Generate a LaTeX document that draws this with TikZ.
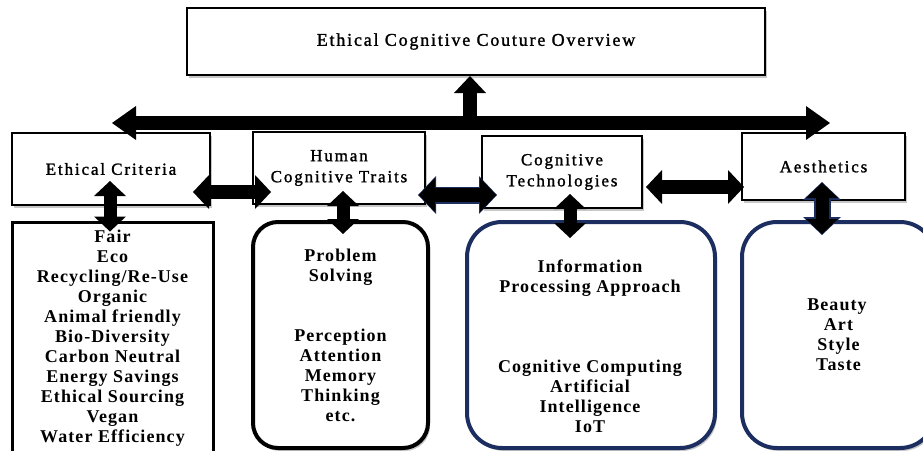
\documentclass[tikz,border=0pt]{standalone}
\usepackage{fontspec}
\setmainfont{Liberation Serif}
\newfontfamily\titlefont{Liberation Serif}[LetterSpace=10,FakeBold=1.4]
\newfontfamily\headfont{Liberation Serif}[LetterSpace=11,FakeBold=1.4]
\newfontfamily\listfont{Liberation Serif}[LetterSpace=6]
\usetikzlibrary{arrows.meta,shadows,calc}
\definecolor{navy}{RGB}{28,45,95}
\tikzset{
  shadowed/.style={drop shadow={shadow xshift=2pt,shadow yshift=-3pt,opacity=0.22,fill=black}},
  hbox/.style={draw=black,line width=2pt,fill=white,shadowed,inner sep=0pt,align=center,
    font=\headfont\fontsize{17}{21}\selectfont},
  lbox/.style={draw=black,line width=3pt,fill=white,shadowed,inner sep=0pt,align=center,
    font=\listfont\fontsize{18}{20}\selectfont\bfseries},
  rbox/.style={lbox,line width=4pt,rounded corners=25pt},
  nbox/.style={rbox,draw=navy,rounded corners=35pt},
  ltext/.style={align=center,font=\listfont\fontsize{18}{20}\selectfont\bfseries},
  blk/.style={line width=14pt,draw=black,
    {Triangle[length=16pt,width=34pt,line width=0pt]}-{Triangle[length=16pt,width=34pt,line width=0pt]}},
  vblk/.style={line width=13pt,draw=black,
    {Triangle[length=15pt,width=32pt,line width=0pt]}-{Triangle[length=15pt,width=32pt,line width=0pt]}},
  navyback/.style={line width=17pt,draw=navy,
    {Triangle[length=18pt,width=38pt,line width=0pt]}-{Triangle[length=18pt,width=38pt,line width=0pt]}},
}
\begin{document}
\begin{tikzpicture}[x=1pt,y=-1pt]
\useasboundingbox (0,0) rectangle (923,450);
\clip (0,0) rectangle (923,450);
% top box
\node[hbox,minimum width=578pt,minimum height=67pt,font=\titlefont\fontsize{18}{20}\selectfont] (top) at (476,41.5) {Ethical Cognitive Couture Overview};
% heading boxes
\node[hbox,minimum width=198pt,minimum height=72pt] (ec) at (111,169) {Ethical Criteria};
\node[hbox,minimum width=172pt,minimum height=72pt] (hct) at (339,168) {Human\\Cognitive Traits};
\node[hbox,minimum width=160pt,minimum height=72pt] (ct) at (562,172) {Cognitive\\Technologies};
\node[hbox,minimum width=163pt,minimum height=67pt] (ae) at (823.5,166.5) {Aesthetics};
% list boxes
\node[lbox,minimum width=201pt,minimum height=233pt] (ecl) at (112.5,338.5)
  {Fair\\Eco\\Recycling/Re-Use\\Organic\\Animal friendly\\Bio-Diversity\\Carbon Neutral\\Energy Savings\\Ethical Sourcing\\Vegan\\Water Efficiency};
\node[rbox,minimum width=175pt,minimum height=226pt] (hctl) at (340.5,335)
  {Problem\\Solving\\[40pt]Perception\\Attention\\Memory\\Thinking\\etc.};
\node[nbox,minimum width=248pt,minimum height=226pt] (ctl) at (591,335) {};
\node[ltext] (ctt) at (590,346) {Information\\Processing Approach\\[60pt]Cognitive Computing\\Artificial\\Intelligence\\IoT};
\node[nbox,minimum width=193pt,minimum height=226pt] (ael) at (838.5,335) {\hspace*{-3pt}Beauty\\Art\\Style\\Taste};
% bus
\coordinate (busL) at (112,123);
\coordinate (busR) at (830,123);
\coordinate (busM) at (470,123);
\draw[line width=14pt,{Triangle[length=24pt,width=34pt,line width=0pt]}-{Triangle[length=24pt,width=34pt,line width=0pt]}] (busL) -- (busR);
\draw[line width=14pt,-{Triangle[length=17pt,width=32pt,line width=0pt]}] (busM) -- (busM |- top.south);
% horizontal double arrows
\draw[blk] ($(ec.east)+(-18,23)$) -- ($(hct.west)+(19,24)$);
\draw[navyback] ($(hct.east)+(-8,27)$) -- ($(ct.west)+(16,23)$);
\draw[blk] ($(hct.east)+(-7,27)$) -- ($(ct.west)+(15,23)$);
\draw[blk] ($(ct.east)+(3,15)$) -- ($(ae.west)+(3,20.5)$);
% vertical double arrows
\draw[vblk] ($(ec.south)+(-1,-25)$) -- ($(ecl.north)+(-2.5,11)$);
\draw[vblk] ($(hct.south)+(4,-14)$) -- ($(hctl.north)+(2.5,14)$);
\draw[vblk] ($(ct.south)+(8,-15)$) -- ($(ctl.north)+(-21,18)$);
\draw[navyback] ($(ae.south)+(-1.5,-19)$) -- ($(ael.north)+(-16.5,15)$);
\draw[vblk] ($(ae.south)+(-1.5,-18)$) -- ($(ael.north)+(-16.5,14)$);
\end{tikzpicture}
\end{document}
